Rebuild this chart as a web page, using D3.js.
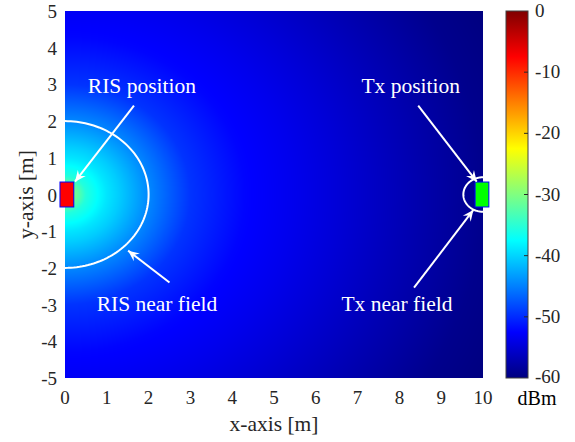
<!DOCTYPE html>
<html>
<head>
<meta charset="utf-8">
<script src="https://cdn.jsdelivr.net/npm/d3@7"></script>
<style>
  body { margin: 0; background: #fff; }
  text { font-family: "Liberation Serif", "Times New Roman", serif; }
</style>
</head>
<body>
<div id="chart"></div>
<script>
// chart data
var xTicks = [0, 1, 2, 3, 4, 5, 6, 7, 8, 9, 10];
var yTicks = [5, 4, 3, 2, 1, 0, -1, -2, -3, -4, -5];
var cbTicks = [0, -10, -20, -30, -40, -50, -60];

// received power vs distance from the RIS (m -> dBm)
var profDist = [0, 0.25, 0.5, 1, 1.3, 2, 3, 4.3, 5.5, 6.5, 8, 10, 11.2];
var profDbm = [-27, -31, -35.5, -39, -40.5, -44.5, -49.5, -52.3, -53.6, -54.8, -56.7, -59.2, -60];

// RIS and Tx positions, near field radii
var risPos = [0, 0];
var txPos = [10, 0];
var risNearR = 2;
var txNearR = 0.47;

// annotations: label, label position, arrow from, arrow to
var notes = [
  { label: "RIS position", at: [1.84, 2.77], from: [1.65, 2.42], to: [0.24, 0.35] },
  { label: "RIS near field", at: [2.2, -3.17], from: [2.5, -2.4], to: [1.51, -1.53] },
  { label: "Tx position", at: [8.27, 2.77], from: [8.45, 2.42], to: [9.85, 0.35] },
  { label: "Tx near field", at: [7.94, -3.17], from: [8.35, -2.54], to: [9.77, -0.42] }
];

var svgWidth = 575, svgHeight = 442;
var plot = { left: 65, right: 483, top: 11, bottom: 378 };
var cb = { left: 506, right: 528 };

var svg = d3.select("#chart").append("svg")
  .attr("width", svgWidth)
  .attr("height", svgHeight);

var xScale = d3.scaleLinear().domain([0, 10]).range([plot.left, plot.right]);
var yScale = d3.scaleLinear().domain([-5, 5]).range([plot.bottom, plot.top]);
var cbScale = d3.scaleLinear().domain([-60, 0]).range([plot.bottom, plot.top]);
var powerAt = d3.scaleLinear().domain(profDist).range(profDbm).clamp(true);

// MATLAB jet colormap
function jet(v) {
  v = Math.max(0, Math.min(1, v));
  var c = function(t) { return Math.max(0, Math.min(1, 1.5 - Math.abs(t))); };
  return [c(4 * v - 3), c(4 * v - 2), c(4 * v - 1)];
}
var dbToUnit = d3.scaleLinear().domain([-60, 0]).range([0, 1]).clamp(true);

// heat map, drawn per pixel on a canvas then put in the svg
var w = plot.right - plot.left, h = plot.bottom - plot.top;
var canvas = document.createElement("canvas");
canvas.width = w; canvas.height = h;
var ctx = canvas.getContext("2d");
var img = ctx.createImageData(w, h);
for (var j = 0; j < h; j++) {
  var yv = yScale.invert(plot.top + j + 0.5);
  for (var i = 0; i < w; i++) {
    var xv = xScale.invert(plot.left + i + 0.5);
    var d = Math.hypot(xv - risPos[0], yv - risPos[1]);
    var col = jet(dbToUnit(powerAt(d)));
    var k = (j * w + i) * 4;
    img.data[k] = Math.round(col[0] * 255);
    img.data[k + 1] = Math.round(col[1] * 255);
    img.data[k + 2] = Math.round(col[2] * 255);
    img.data[k + 3] = 255;
  }
}
ctx.putImageData(img, 0, 0);
svg.append("image")
  .attr("x", plot.left).attr("y", plot.top)
  .attr("width", w).attr("height", h)
  .attr("href", canvas.toDataURL());

// clip for the near field circles
svg.append("clipPath").attr("id", "plotClip")
  .append("rect")
  .attr("x", plot.left).attr("y", plot.top)
  .attr("width", w).attr("height", h);

function circlePath(c, r) {
  var pts = d3.range(0, 361, 2).map(function(a) {
    var t = a * Math.PI / 180;
    return [xScale(c[0] + r * Math.cos(t)), yScale(c[1] + r * Math.sin(t))];
  });
  return d3.line()(pts);
}

var near = svg.append("g").attr("clip-path", "url(#plotClip)");
near.append("path")
  .attr("d", circlePath(risPos, risNearR))
  .attr("fill", "none").attr("stroke", "#fff").attr("stroke-width", 2);
near.append("path")
  .attr("d", circlePath(txPos, txNearR))
  .attr("fill", "none").attr("stroke", "#fff").attr("stroke-width", 2);

// RIS and Tx blocks
svg.append("rect")
  .attr("x", xScale(risPos[0] - 0.12)).attr("y", yScale(risPos[1] + 0.34))
  .attr("width", xScale(0.33) - xScale(0)).attr("height", yScale(-0.34) - yScale(0.34))
  .attr("fill", "#ff0000").attr("stroke", "#0000ff").attr("stroke-width", 1);
svg.append("rect")
  .attr("x", xScale(txPos[0] - 0.19)).attr("y", yScale(txPos[1] + 0.34))
  .attr("width", xScale(0.33) - xScale(0)).attr("height", yScale(-0.34) - yScale(0.34))
  .attr("fill", "#00ff00").attr("stroke", "#0000ff").attr("stroke-width", 1);

// arrows
svg.append("defs").append("marker")
  .attr("id", "head")
  .attr("viewBox", "-12 -6 13 12")
  .attr("markerWidth", 13).attr("markerHeight", 12)
  .attr("markerUnits", "userSpaceOnUse")
  .attr("refX", 0).attr("refY", 0)
  .attr("orient", "auto")
  .append("path")
  .attr("d", "M0,0 L-11,-5 L-7,0 L-11,5 Z")
  .attr("fill", "#fff");

notes.forEach(function(n) {
  svg.append("line")
    .attr("x1", xScale(n.from[0])).attr("y1", yScale(n.from[1]))
    .attr("x2", xScale(n.to[0])).attr("y2", yScale(n.to[1]))
    .attr("stroke", "#fff").attr("stroke-width", 2)
    .attr("marker-end", "url(#head)");
  svg.append("text")
    .attr("x", xScale(n.at[0])).attr("y", yScale(n.at[1]))
    .attr("text-anchor", "middle")
    .attr("font-size", "21.5px")
    .attr("fill", "#fff")
    .text(n.label);
});

// axis tick labels
svg.append("g").selectAll("text")
  .data(xTicks).enter().append("text")
  .attr("x", d => xScale(d)).attr("y", 404)
  .attr("text-anchor", "middle")
  .attr("font-size", "19px").attr("fill", "#262626")
  .text(d => d);

svg.append("g").selectAll("text")
  .data(yTicks).enter().append("text")
  .attr("x", 57).attr("y", d => yScale(d) + 7)
  .attr("text-anchor", "end")
  .attr("font-size", "19px").attr("fill", "#262626")
  .text(d => d);

// axis labels
svg.append("text")
  .attr("x", (plot.left + plot.right) / 2).attr("y", 431)
  .attr("text-anchor", "middle")
  .attr("font-size", "21.5px").attr("fill", "#262626")
  .text("x-axis [m]");

svg.append("text")
  .attr("transform", "translate(33," + ((plot.top + plot.bottom) / 2) + ") rotate(-90)")
  .attr("text-anchor", "middle")
  .attr("font-size", "21.5px").attr("fill", "#262626")
  .text("y-axis [m]");

// colorbar
var grad = svg.select("defs").append("linearGradient")
  .attr("id", "jetGrad")
  .attr("x1", 0).attr("y1", 1).attr("x2", 0).attr("y2", 0);
d3.range(0, 1.0001, 1 / 32).forEach(function(t) {
  var c = jet(t);
  grad.append("stop")
    .attr("offset", t)
    .attr("stop-color", d3.rgb(c[0] * 255, c[1] * 255, c[2] * 255));
});

svg.append("rect")
  .attr("x", cb.left).attr("y", plot.top)
  .attr("width", cb.right - cb.left).attr("height", h)
  .attr("fill", "url(#jetGrad)")
  .attr("stroke", "#404040").attr("stroke-width", 1);

svg.append("g").selectAll("line")
  .data(cbTicks.slice(1, -1)).enter().append("line")
  .attr("x1", cb.right - 4).attr("x2", cb.right)
  .attr("y1", d => cbScale(d)).attr("y2", d => cbScale(d))
  .attr("stroke", "#262626").attr("stroke-width", 1);

svg.append("g").selectAll("text")
  .data(cbTicks).enter().append("text")
  .attr("x", 535).attr("y", d => cbScale(d) + (d === -60 ? 5 : 6))
  .attr("font-size", "19px").attr("fill", "#262626")
  .text(d => d);

svg.append("text")
  .attr("x", 537).attr("y", 405)
  .attr("text-anchor", "middle")
  .attr("font-size", "20px").attr("fill", "#000")
  .text("dBm");
</script>
</body>
</html>
